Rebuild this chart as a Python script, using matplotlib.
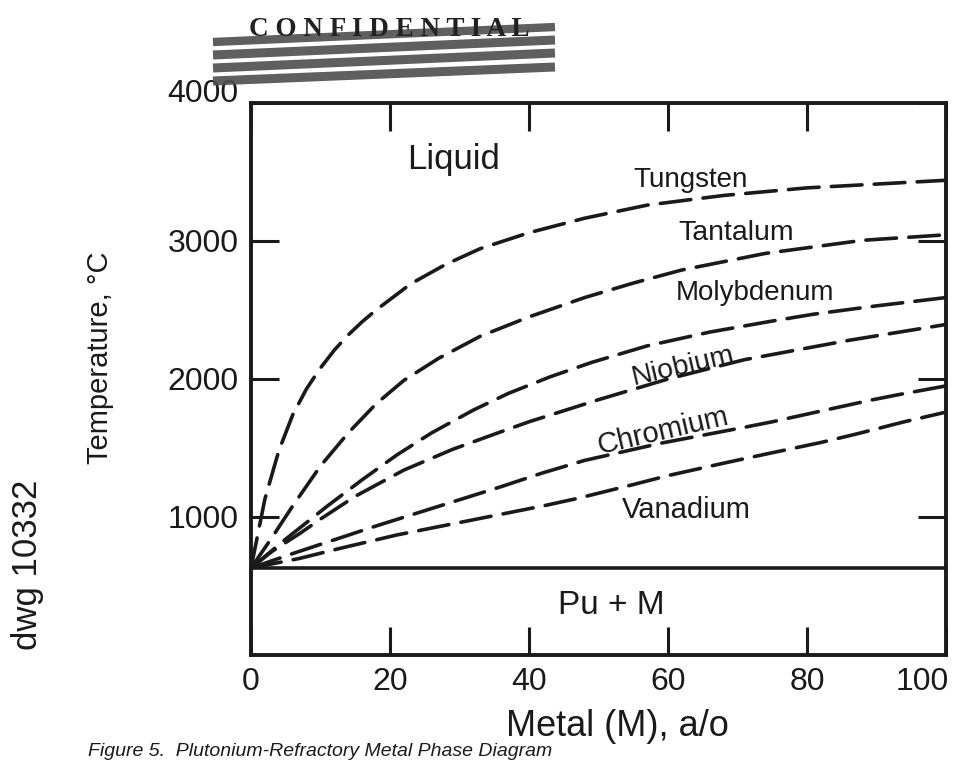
import matplotlib
matplotlib.use("Agg")
import matplotlib.pyplot as plt
from matplotlib.lines import Line2D
from matplotlib.transforms import ScaledTranslation

plt.rcParams['font.family'] = ['Liberation Sans', 'DejaVu Sans']

# ---- data ----
tungsten_x = [0, 2, 4, 6, 8, 10, 12, 14, 16, 18, 23, 28, 33, 40, 48, 57, 68, 80, 100]
tungsten_t = [630, 1130, 1480, 1740, 1930, 2080, 2210, 2320, 2415, 2500, 2690, 2830, 2945,
              3060, 3165, 3260, 3330, 3385, 3440]

tantalum_x = [0, 3, 6, 10, 14, 18, 22, 27, 33, 40, 48, 55, 62, 74, 88, 100]
tantalum_t = [630, 850, 1080, 1370, 1610, 1820, 1990, 2150, 2310, 2450, 2590, 2695, 2790, 2910, 3005, 3045]

molybdenum_x = [0, 5, 8, 11, 16, 21, 26, 32, 37, 43, 49, 57, 66, 75, 81, 90, 100]
molybdenum_t = [630, 840, 960, 1080, 1270, 1450, 1610, 1775, 1895, 2015, 2120, 2240, 2340, 2420, 2470, 2530, 2590]

niobium_x = [0, 3, 7, 10, 15, 22, 29, 35, 40, 45, 50, 60, 71, 86, 100]
niobium_t = [630, 750, 880, 985, 1150, 1340, 1490, 1600, 1690, 1770, 1850, 2000, 2140, 2280, 2395]

chromium_x = [0, 6, 12, 18, 24, 30, 36, 42, 48, 59, 71, 75, 89, 93, 100]
chromium_t = [630, 735, 835, 935, 1030, 1125, 1220, 1320, 1410, 1535, 1650, 1690, 1845, 1885, 1950]

vanadium_x = [0, 7, 13, 21, 29, 36, 42, 47, 55, 60, 68, 74, 82, 87, 94, 100]
vanadium_t = [630, 700, 775, 870, 950, 1020, 1080, 1135, 1235, 1300, 1390, 1455, 1540, 1600, 1690, 1760]

pu_melting = 630  # solidus line (Pu + M boundary)
x_range = [0, 100]

x_ticks = [0, 20, 40, 60, 80, 100]
x_ticklabels = ["0", "20", "40", "60", "80", "100"]
y_ticks = [1000, 2000, 3000, 4000]
y_ticklabels = ["1000", "2000", "3000", "4000"]

# ---- figure ----
W, H = 967, 760
fig = plt.figure(figsize=(W / 100, H / 100), dpi=100)
ax = fig.add_axes([251 / W, 1 - 655 / H, (946 - 251) / W, (655 - 103) / H])
ax.set_xlim(0, 100)
ax.set_ylim(0, 4000)

dash = (0, (8.5, 3.4))
lw = 2.6
for xs, ts in [(tungsten_x, tungsten_t), (tantalum_x, tantalum_t),
               (molybdenum_x, molybdenum_t), (niobium_x, niobium_t),
               (chromium_x, chromium_t), (vanadium_x, vanadium_t)]:
    ax.plot(xs, ts, color='#1a1a1a', lw=lw, linestyle=dash,
            dash_capstyle='round', dash_joinstyle='round', clip_on=False)

ax.plot(x_range, [pu_melting, pu_melting], color='#1a1a1a', lw=2.6, solid_capstyle='butt')

for s in ax.spines.values():
    s.set_linewidth(2.8)
    s.set_color('#1a1a1a')

ax.set_xticks(x_ticks)
ax.set_xticklabels(x_ticklabels)
ax.set_yticks(y_ticks)
ax.set_yticklabels(y_ticklabels)
ax.tick_params(direction='in', length=20, width=2.2, top=True, right=True,
               labelsize=23, pad=9, colors='#1a1a1a')

# last x label sits flush with the right frame; top y label is raised a little
xt = ax.xaxis.get_major_ticks()[-1].label1
xt.set_horizontalalignment('right')
xt.set_transform(xt.get_transform() + ScaledTranslation(0.03, 0, fig.dpi_scale_trans))
yt = ax.yaxis.get_major_ticks()[-1].label1
yt.set_transform(yt.get_transform() + ScaledTranslation(0, 0.12, fig.dpi_scale_trans))

txt = dict(color='#1a1a1a', ha='center', va='center')
ax.text(29.2, 3590, "Liquid", fontsize=25, **txt)
ax.text(63.3, 3440, "Tungsten", fontsize=20, **txt)
ax.text(69.8, 3060, "Tantalum", fontsize=20.5, **txt)
ax.text(72.5, 2625, "Molybdenum", fontsize=20, **txt)
ax.text(62.2, 2090, "Niobium", fontsize=20.5, rotation=13, rotation_mode='anchor', **txt)
ax.text(59.3, 1620, "Chromium", fontsize=21, rotation=13, rotation_mode='anchor', **txt)
ax.text(62.6, 1050, "Vanadium", fontsize=21, **txt)
ax.text(51.9, 362, "Pu + M", fontsize=24, **txt)

# axis labels and side texts
fig.text(100 / W, 1 - 358 / H, "Temperature, °C", rotation=90, fontsize=21, **txt)
fig.text(27 / W, 1 - 565 / H, "dwg 10332", rotation=90, fontsize=25, **txt)
fig.text(617 / W, 1 - 727 / H, "Metal (M), a/o", fontsize=26, **txt)
fig.text(88 / W, 1 - 751 / H, "Figure 5.  Plutonium-Refractory Metal Phase Diagram",
         fontsize=14, style='italic', color='#1a1a1a', ha='left', va='center')

# "CONFIDENTIAL" stamp with scribble
fig.text(389 / W, 1 - 30 / H, "C O N F I D E N T I A L", fontsize=19.5,
         family=['Liberation Serif', 'DejaVu Serif'], fontweight='bold',
         color='#222222', ha='center', va='center')
for (x0, y0, x1, y1, w) in [(213, 42, 555, 27, 6.0), (213, 55, 555, 40, 6.5),
                            (213, 68, 555, 53, 6.5), (213, 81, 555, 67, 6.5)]:
    fig.add_artist(Line2D([x0 / W, x1 / W], [1 - y0 / H, 1 - y1 / H],
                          transform=fig.transFigure, color='#4d4d4d', lw=w, alpha=0.9,
                          solid_capstyle='butt'))

fig.savefig("out.png", dpi=100)
